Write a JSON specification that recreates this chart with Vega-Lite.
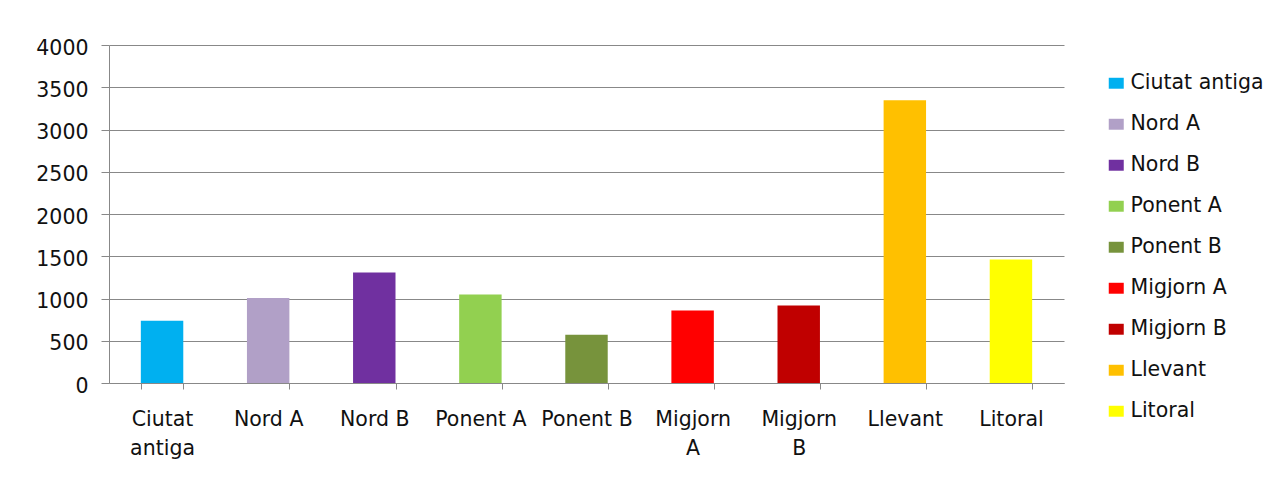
{
  "$schema": "https://vega.github.io/schema/vega-lite/v6.json",
  "width": 955,
  "height": 338,
  "autosize": {"type": "none"},
  "padding": {"left": 109, "top": 45, "right": 199, "bottom": 94},
  "background": "white",
  "config": {
    "view": {"stroke": null},
    "font": "DejaVu Sans",
    "axis": {"labelFont": "DejaVu Sans", "labelFontSize": 20.5, "labelColor": "#111111"}
  },
  "data": {
    "values": [
      {"zona": "Ciutat antiga", "valor": 738},
      {"zona": "Nord A", "valor": 1005},
      {"zona": "Nord B", "valor": 1307},
      {"zona": "Ponent A", "valor": 1046},
      {"zona": "Ponent B", "valor": 572},
      {"zona": "Migjorn A", "valor": 857},
      {"zona": "Migjorn B", "valor": 916},
      {"zona": "Llevant", "valor": 3345},
      {"zona": "Litoral", "valor": 1461}
    ]
  },
  "mark": {"type": "bar"},
  "encoding": {
    "x": {
      "field": "zona",
      "type": "nominal",
      "sort": null,
      "scale": {"paddingInner": 0.6, "paddingOuter": 0.3},
      "axis": {
        "title": null,
        "labelAngle": 0,
        "tickBand": "extent",
        "tickSize": 6,
        "tickColor": "#888888",
        "domainColor": "#888888",
        "labelPadding": 20,
        "labelLineHeight": 29,
        "labelExpr": "indexof(['Ciutat antiga','Migjorn A','Migjorn B'], datum.value) >= 0 ? split(datum.value, ' ') : datum.value"
      }
    },
    "y": {
      "field": "valor",
      "type": "quantitative",
      "scale": {"domain": [0, 4000], "nice": false},
      "axis": {
        "title": null,
        "format": "d",
        "values": [0, 500, 1000, 1500, 2000, 2500, 3000, 3500, 4000],
        "grid": true,
        "gridColor": "#888888",
        "gridOpacity": 1,
        "tickSize": 8,
        "tickColor": "#888888",
        "domainColor": "#888888",
        "labelPadding": 13,
        "labelOffset": 3
      }
    },
    "color": {
      "field": "zona",
      "type": "nominal",
      "sort": null,
      "scale": {
        "domain": ["Ciutat antiga", "Nord A", "Nord B", "Ponent A", "Ponent B", "Migjorn A", "Migjorn B", "Llevant", "Litoral"],
        "range": ["#00B0F0", "#B1A0C7", "#7030A0", "#92D050", "#77933C", "#FF0000", "#C00000", "#FFC000", "#FFFF00"]
      },
      "legend": {
        "title": null,
        "orient": "none",
        "legendX": 997,
        "legendY": 28,
        "padding": 0,
        "symbolType": "M-1,-0.73H1V0.73H-1Z",
        "symbolSize": 225,
        "symbolStrokeWidth": 0,
        "labelFont": "DejaVu Sans",
        "labelFontSize": 20.5,
        "labelColor": "#111111",
        "labelOffset": 4,
        "rowPadding": 20,
        "labelLimit": 400
      }
    }
  }
}
